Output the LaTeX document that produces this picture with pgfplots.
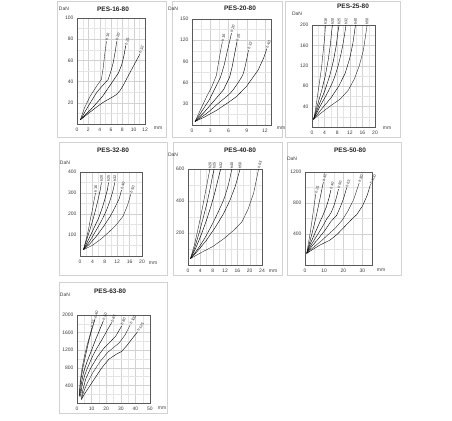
\documentclass[border=0pt]{standalone}
\usepackage{fontspec}
\setmainfont{Liberation Sans}
\usepackage{pgfplots}
\pgfplotsset{compat=1.18}
\definecolor{txt}{RGB}{60,60,60}
\tikzset{lab/.style={font=\fontsize{3.8}{4}\selectfont, inner sep=0.5pt, anchor=west, text=black!85}}
\pgfplotsset{
  panel/.style={
    scale only axis, anchor=south west, clip=false,
    xmin=0, ymin=0,
    axis line style={draw=black!65, line width=0.5pt},
    grid=both, minor tick num=1,
    major grid style={draw=gray!35, line width=0.3pt},
    minor grid style={draw=gray!20, line width=0.3pt},
    tick style={draw=none},
    tick label style={font=\fontsize{5}{6}\selectfont, text=txt},
    xticklabel style={yshift=-0.5pt},
    /pgf/number format/assume math mode=true,
    /pgf/number format/1000 sep={},
    cycle list={{draw=black!85, solid, line width=0.45pt, smooth, mark=none}},
  },
}
\begin{document}
\begin{tikzpicture}
\useasboundingbox (0pt,0pt) rectangle (452pt,420pt);
% panel frames
\begin{scope}[draw=gray!35, line width=0.6pt]
\draw (57pt,419pt) rectangle (166pt,283pt);
\draw (172pt,419pt) rectangle (282pt,283pt);
\draw (285pt,419pt) rectangle (400pt,283pt);
\draw (59pt,278pt) rectangle (167pt,145pt);
\draw (173pt,278pt) rectangle (282pt,145pt);
\draw (287pt,278pt) rectangle (401pt,145pt);
\draw (59pt,138pt) rectangle (167pt,7pt);
\end{scope}
\begin{scope}[font=\fontsize{6.5}{7}\bfseries, text=black!85]
\node at (113pt,411pt) {PES-16-80};
\node at (240pt,412pt) {PES-20-80};
\node at (353pt,414pt) {PES-25-80};
\node at (113pt,270pt) {PES-32-80};
\node at (240pt,270pt) {PES-40-80};
\node at (350pt,270pt) {PES-50-80};
\node at (110pt,129pt) {PES-63-80};
\end{scope}
\begin{scope}[font=\fontsize{5}{6}\selectfont, text=txt]
\node at (64pt,411pt) {DaN};
\node at (173pt,411pt) {DaN};
\node at (297pt,406pt) {DaN};
\node at (65pt,257pt) {DaN};
\node at (173pt,265pt) {DaN};
\node at (292pt,261pt) {DaN};
\node at (65pt,125pt) {DaN};
\node at (158pt,292pt) {mm};
\node at (281pt,292pt) {mm};
\node at (387pt,292pt) {mm};
\node at (153pt,157pt) {mm};
\node at (273pt,149pt) {mm};
\node at (381pt,150pt) {mm};
\node at (162pt,12pt) {mm};
\end{scope}

% ---------- PES-16-80
\begin{axis}[panel, at={(77pt,296pt)}, width=68pt, height=106pt,
  xmax=12, ymax=100, xtick={0,2,...,12}, ytick={0,20,...,100}, yticklabels={,20,40,60,80,100}]
\addplot coordinates {(0.6,4) (1.3,15) (2.3,26) (3.5,36) (4.3,42) (4.6,52) (4.9,66) (5.2,78)} node[lab,pos=1,rotate=78]{h 16};
\addplot coordinates {(0.6,4) (2,17) (3.5,30) (4.8,38) (5.5,42) (6.0,50) (6.4,58) (6.8,70) (7.0,78)} node[lab,pos=1,rotate=75]{h 20};
\addplot coordinates {(0.6,4) (2.5,14) (4.5,26) (6.4,41) (7.3,48) (7.9,56) (8.3,65) (8.6,74)} node[lab,pos=1,rotate=72]{h 25};
\addplot coordinates {(0.6,4) (2.5,12) (4.5,20) (7,28) (8,35) (8.8,43) (9.8,53) (10.5,60) (11.1,66)} node[lab,pos=1,rotate=70]{h 32};
\end{axis}

% ---------- PES-20-80
\begin{axis}[panel, at={(192pt,295pt)}, width=79pt, height=106pt,
  xmax=13, ymax=150, xtick={0,3,...,12}, ytick={0,30,...,150}, yticklabels={,30,60,90,120,150}]
\addplot coordinates {(0.5,5) (1.2,18) (2.4,40) (3.3,55) (4.0,70) (4.4,90) (4.7,105) (5.0,118)} node[lab,pos=1,rotate=78]{h 16};
\addplot coordinates {(0.5,5) (1.5,18) (2.8,35) (3.8,52) (4.7,68) (5.3,85) (5.9,108) (6.5,130)} node[lab,pos=1,rotate=75]{h 20};
\addplot coordinates {(0.5,5) (2,18) (3.5,33) (5.2,50) (6.2,68) (6.6,82) (7.0,100) (7.4,118)} node[lab,pos=1,rotate=75]{h 25};
\addplot coordinates {(0.5,5) (2.5,17) (4.5,32) (6.3,45) (7.6,60) (8.4,72) (8.8,85) (9.3,106)} node[lab,pos=1,rotate=72]{h 32};
\addplot coordinates {(0.5,5) (2,11) (4.1,21) (6,32) (7.3,40) (9,55) (10.9,78) (11.8,95) (12.3,108)} node[lab,pos=1,rotate=70]{h 40};
\end{axis}

% ---------- PES-25-80
\begin{axis}[panel, at={(312pt,293pt)}, width=63pt, height=102pt,
  xmax=20, ymax=200, xtick={0,4,...,20}, ytick={0,40,...,200}, yticklabels={,40,80,120,160,200}]
\addplot coordinates {(0.5,15) (1,30) (1.6,55) (2.3,85) (3.0,115) (3.5,145) (4.0,175) (4.3,200)} node[lab,pos=1,rotate=90]{h16};
\addplot coordinates {(0.5,15) (1.6,40) (3,70) (4.2,100) (5.1,130) (5.8,160) (6.2,185) (6.5,200)} node[lab,pos=1,rotate=90]{h20};
\addplot coordinates {(0.5,15) (2,40) (4,70) (5.6,100) (6.8,130) (7.7,160) (8.2,185) (8.6,200)} node[lab,pos=1,rotate=90]{h25};
\addplot coordinates {(0.5,15) (2.5,40) (5,68) (7,95) (8.5,125) (9.6,155) (10.3,180) (10.8,200)} node[lab,pos=1,rotate=90]{h32};
\addplot coordinates {(0.5,15) (3,35) (6,57) (8.5,80) (10.5,105) (12,135) (13,165) (13.8,200)} node[lab,pos=1,rotate=90]{h40};
\addplot coordinates {(0.5,15) (3,28) (6,42) (9,55) (11.5,72) (13.5,95) (15,120) (16.3,150) (17.5,200)} node[lab,pos=1,rotate=90]{h50};
\end{axis}

% ---------- PES-32-80
\begin{axis}[panel, at={(80pt,164pt)}, width=62pt, height=84pt,
  xmax=20, ymax=400, xtick={0,4,...,20}, ytick={0,100,...,400}, yticklabels={,100,200,300,400}]
\addplot coordinates {(1.1,30) (2.0,80) (2.8,130) (3.4,180) (4.0,220) (4.4,255) (5.0,300)} node[lab,pos=1,rotate=88]{h 16};
\addplot coordinates {(1.1,30) (2.2,80) (3.3,130) (4.3,180) (5.2,230) (6.0,280) (6.6,320) (6.9,350)} node[lab,pos=1,rotate=90]{h20};
\addplot coordinates {(1.1,30) (2.8,80) (4.4,130) (6.0,180) (7.2,230) (8.2,280) (8.9,320) (9.2,350)} node[lab,pos=1,rotate=90]{h25};
\addplot coordinates {(1.1,30) (3.1,70) (5.1,120) (7.0,170) (8.6,220) (9.8,270) (10.7,315) (11.2,350)} node[lab,pos=1,rotate=90]{h32};
\addplot coordinates {(1.1,30) (3.3,60) (5.6,100) (7.8,145) (9.8,190) (11.4,235) (12.7,275) (13.4,315)} node[lab,pos=1,rotate=75]{h 40};
\addplot coordinates {(1.1,30) (3.9,50) (6.7,80) (9.4,115) (11.7,148) (13.9,190) (15.3,240) (16.4,295)} node[lab,pos=1,rotate=70]{h 50};
\end{axis}

% ---------- PES-40-80
\begin{axis}[panel, at={(188pt,155pt)}, width=74pt, height=96pt,
  xmax=24, ymax=600, xtick={0,4,...,24}, ytick={0,200,400,600}, yticklabels={,200,400,600}]
\addplot coordinates {(0.8,40) (2,120) (3.2,220) (4.3,320) (5.3,420) (6.2,510) (7.1,600)} node[lab,pos=1,rotate=90]{h20};
\addplot coordinates {(0.8,40) (2.2,110) (3.6,200) (5,300) (6.2,390) (7.2,480) (8,560) (8.5,600)} node[lab,pos=1,rotate=90]{h25};
\addplot coordinates {(0.8,40) (2.5,105) (4.3,190) (6,280) (7.5,370) (8.8,460) (9.8,540) (10.6,600)} node[lab,pos=1,rotate=90]{h32};
\addplot coordinates {(0.8,40) (3,95) (5.5,170) (8,260) (10,340) (11.8,420) (13.2,510) (14.2,600)} node[lab,pos=1,rotate=90]{h40};
\addplot coordinates {(0.8,40) (3,85) (6,155) (9,240) (11.5,320) (13.5,400) (15.3,490) (16.9,600)} node[lab,pos=1,rotate=90]{h50};
\addplot coordinates {(0.8,40) (4,75) (8,115) (12,170) (15,220) (17.5,270) (19.5,350) (21.3,450) (22.9,600)} node[lab,pos=1,rotate=75]{h 63};
\end{axis}

% ---------- PES-50-80
\begin{axis}[panel, at={(305pt,155pt)}, width=67pt, height=93pt,
  xmax=35, ymax=1200, xtick={0,10,20,30}, ytick={0,400,800,1200}, yticklabels={,400,800,1200}]
\addplot coordinates {(0.9,150) (1.8,280) (2.8,430) (3.7,580) (4.5,720) (5.1,830) (5.7,920)} node[lab,pos=1,rotate=75]{h 25};
\addplot coordinates {(0.9,150) (2.3,280) (4,440) (5.6,600) (7,760) (8.2,900) (9.0,1000) (9.6,1070)} node[lab,pos=1,rotate=75]{h 32};
\addplot coordinates {(0.9,150) (2.5,260) (5,400) (7.5,540) (9.5,650) (11,740) (12.4,850) (13.5,965)} node[lab,pos=1,rotate=75]{h 40};
\addplot coordinates {(0.9,150) (3,250) (6,370) (9,490) (11.5,600) (13.5,670) (15.3,780) (16.5,880) (17.5,980)} node[lab,pos=1,rotate=75]{h 50};
\addplot coordinates {(0.9,150) (3.5,240) (7,340) (10.5,450) (13.5,560) (16.5,640) (18.5,750) (20.3,870) (21.8,1000)} node[lab,pos=1,rotate=72]{h 63};
\addplot coordinates {(0.9,150) (4,220) (8,300) (12,390) (16,480) (19.5,580) (22.5,700) (25.5,850) (28.3,1060)} node[lab,pos=1,rotate=70]{h 80};
\addplot coordinates {(0.9,150) (4,200) (8,260) (13,320) (17,400) (20.5,490) (24,580) (27,650) (30,760) (32.5,900) (34.2,1040)} node[lab,pos=1,rotate=62]{h 100};
\end{axis}

% ---------- PES-63-80
\begin{axis}[panel, at={(77pt,17pt)}, width=73pt, height=88pt,
  xmax=50, ymax=2000, xtick={0,10,...,50}, ytick={0,400,...,2000}, yticklabels={,400,800,1200,1600,2000}]
\addplot coordinates {(1.5,150) (2.2,500) (3.5,800) (5,1050) (6.8,1300) (8.5,1500) (10.1,1700)} node[lab,pos=1,rotate=78]{h 32};
\addplot coordinates {(1.5,150) (2.5,500) (4,800) (6,1100) (8,1400) (10,1650) (12.4,1920)} node[lab,pos=1,rotate=75]{h 40};
\addplot coordinates {(2,150) (3,450) (4.5,700) (7,950) (10,1200) (12.5,1420) (15,1620) (18.1,1870)} node[lab,pos=1,rotate=72]{h 50};
\addplot coordinates {(2.5,150) (3.5,400) (5.5,650) (8.5,900) (12,1150) (15.5,1350) (19,1550) (21.5,1700) (23.8,1830)} node[lab,pos=1,rotate=70]{h 63};
\addplot coordinates {(3,100) (4,300) (6,550) (9.5,800) (14,1050) (18.5,1250) (22.5,1380) (26.5,1520) (30.6,1750)} node[lab,pos=1,rotate=68]{h 80};
\addplot coordinates {(3,80) (4.5,250) (7,450) (11,700) (16,950) (21,1150) (25,1260) (29,1370) (33,1550) (36.5,1780)} node[lab,pos=1,rotate=62]{h 100};
\addplot coordinates {(3,80) (5,200) (8,350) (12,550) (17,800) (22,1000) (27,1110) (30.5,1170) (34,1300) (37.5,1450) (41.5,1620)} node[lab,pos=1,rotate=58]{h 125};
\end{axis}
\end{tikzpicture}
\end{document}
